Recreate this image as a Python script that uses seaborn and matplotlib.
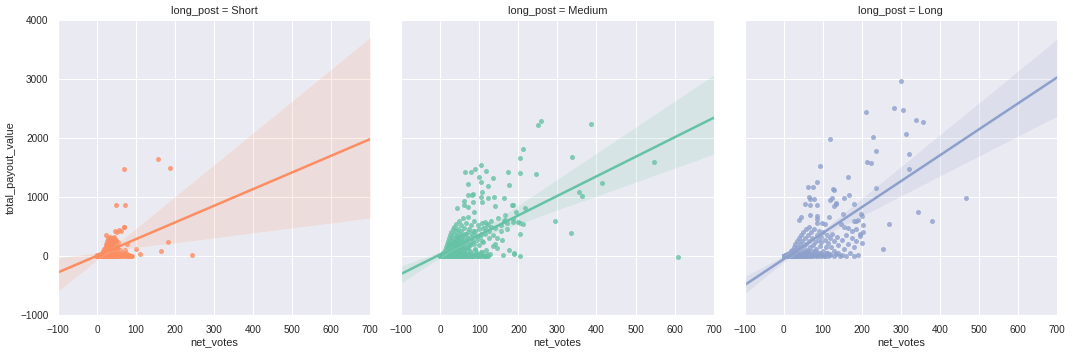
import pandas as pd
import matplotlib
matplotlib.use("Agg")
import matplotlib.pyplot as plt
import seaborn as sns

# -----------------------------------------------------------
# 1. DATA (as (net_votes, payout) pairs)
# -----------------------------------------------------------
categories = ["Short", "Medium", "Long"]
colors = ["#fc8d62", "#66c2a5", "#8da0cb"]

short_points = [
    # outliers
    (70, 1469), (155, 1639), (188, 1486), (49, 859), (73, 859), (70, 486), (62, 418), (47, 430), (51, 400),
    (22, 350), (183, 232), (165, 80), (244, 12), (101, 113), (111, 29), (78, 198), (73, 100), (84, 5),
    (79, 10), (56, 441), (69, 497),
    # main cluster
    (5, 0), (8, 2), (10, 5), (12, 0), (14, 8), (15, 20), (16, 0), (18, 40), (18, 12), (20, 60), (20, 0),
    (21, 90), (22, 150), (22, 30), (23, 200), (24, 0), (24, 110), (25, 260), (25, 45), (26, 180), (26, 0),
    (27, 300), (27, 75), (28, 130), (28, 5), (29, 220), (30, 0), (30, 90), (30, 280), (31, 160), (32, 40),
    (32, 240), (33, 0), (33, 120), (34, 320), (34, 190), (35, 60), (35, 15), (36, 260), (36, 0), (37, 140),
    (38, 210), (38, 30), (39, 300), (40, 0), (40, 95), (41, 170), (42, 250), (42, 10), (43, 330), (44, 60),
    (45, 0), (45, 130), (46, 200), (47, 20), (48, 280), (50, 0), (50, 90), (52, 150), (53, 10), (55, 0),
    (55, 230), (57, 40), (58, 0), (60, 110), (62, 0), (63, 20), (65, 60), (66, 0), (68, 10), (70, 30),
    (72, 0), (75, 50), (77, 5), (80, 0), (82, 15), (86, 0), (90, 5), (0, 0), (1, 3), (2, 0), (3, 5),
    (-1, 0), (4, 10),
    (10, 40), (12, 60), (14, 30), (15, 90), (16, 55), (17, 120), (18, 70), (19, 20), (20, 130), (21, 45),
    (22, 100), (23, 160), (24, 65), (25, 190), (26, 35), (27, 110), (28, 230), (29, 80), (30, 150), (31, 50),
    (32, 190), (33, 260), (34, 100), (35, 20), (36, 170), (37, 230), (38, 75), (39, 140), (40, 260), (41, 45),
    (42, 110), (43, 200), (44, 25), (45, 280), (46, 90), (47, 160), (48, 10), (49, 230), (50, 130),
    # dense floor near zero
    (0, 2), (1, 0), (2, 4), (3, 0), (4, 1), (5, 6), (6, 0), (7, 10), (8, 0), (9, 3), (10, 20), (11, 0),
    (12, 8), (13, 30), (14, 0), (15, 5), (16, 40), (17, 0), (18, 2), (19, 50), (20, 12), (21, 0), (22, 60),
    (23, 5), (24, 25), (25, 0), (26, 70), (27, 10), (28, 0), (29, 35), (30, 15), (31, 0), (32, 80), (33, 5),
    (34, 0), (35, 45), (36, 20), (37, 0), (38, 55), (39, 8), (40, 30), (41, 0), (43, 12), (44, 0), (46, 40),
    (48, 5), (50, 20),
    (0, 0), (0, 5), (1, 0), (1, 10), (2, 0), (2, 2), (3, 0), (3, 15), (4, 0), (4, 3), (5, 0), (5, 25),
    (6, 0), (6, 8), (7, 0), (7, 4), (8, 0), (8, 30), (9, 0), (9, 12),
]

medium_points = [
    # outliers
    (249, 2215), (257, 2283), (387, 2232), (211, 1808), (203, 1656), (338, 1673), (547, 1588), (244, 1385),
    (203, 1401), (173, 1424), (415, 1232), (356, 1079), (362, 1012), (218, 808), (295, 588), (334, 385),
    (608, -22), (190, 29), (203, 0), (203, 367), (211, 537), (199, 571), (184, 859), (186, 859), (162, 978),
    (175, 1198), (134, 1317), (121, 1181), (116, 1441), (103, 1537), (88, 1480), (78, 1424), (63, 1424),
    (98, 1345), (103, 1260), (70, 1215), (107, 1079), (104, 1000), (121, 978), (137, 995), (72, 1034),
    (80, 1034), (85, 1050), (62, 932), (85, 915), (60, 859), (72, 824), (86, 746), (44, 808), (139, 847),
    (107, 910), (162, 593), (171, 565), (121, 542), (130, 497), (165, 610), (186, 581), (107, 554),
    (115, 581), (145, 300), (158, 271), (145, 130), (136, 175), (160, 10), (190, 50), (96, 20), (105, 10),
    (122, 0),
    # main cluster
    (1, 0), (2, 5), (3, 0), (4, 20), (5, 0), (6, 40), (7, 10), (8, 0), (9, 70), (10, 30), (10, 0),
    (11, 110), (12, 50), (13, 0), (14, 150), (15, 80), (15, 10), (16, 200), (17, 120), (18, 0), (18, 40),
    (19, 250), (20, 170), (20, 60), (21, 0), (22, 300), (22, 100), (23, 220), (24, 20), (25, 350),
    (25, 140), (26, 0), (27, 280), (27, 70), (28, 400), (28, 190), (29, 10), (30, 330), (30, 110), (31, 0),
    (32, 450), (32, 240), (33, 50), (34, 380), (35, 160), (35, 0), (36, 500), (37, 290), (38, 80), (38, 20),
    (39, 420), (40, 200), (40, 0), (41, 550), (42, 340), (43, 120), (44, 30), (45, 460), (45, 250), (46, 0),
    (47, 600), (48, 380), (49, 150), (50, 60), (50, 0), (52, 520), (52, 290), (54, 420), (55, 180), (55, 20),
    (57, 650), (58, 340), (60, 90), (60, 0), (62, 480), (63, 240), (65, 560), (65, 30), (67, 380), (68, 130),
    (70, 660), (70, 0), (72, 300), (73, 450), (75, 60), (76, 200), (78, 520), (80, 10), (82, 380), (84, 0),
    (85, 260), (87, 600), (88, 120), (90, 430), (92, 30), (94, 0), (95, 320), (97, 520), (100, 180),
    (100, 0), (103, 70), (105, 380), (108, 20), (110, 240), (112, 0), (115, 470), (118, 100), (120, 0),
    (125, 300), (128, 40), (140, 200), (155, 420), (175, 100),
    (5, 20), (6, 10), (7, 30), (8, 45), (9, 15), (10, 55), (11, 25), (12, 70), (13, 40), (14, 90), (15, 30),
    (16, 110), (17, 55), (18, 130), (19, 75), (20, 100), (21, 40), (22, 140), (23, 80), (24, 170), (25, 55),
    (26, 120), (27, 190), (28, 90), (29, 150), (30, 60), (31, 210), (32, 130), (33, 170), (34, 90), (35, 240),
    (36, 140), (37, 60), (38, 200), (39, 120), (40, 260), (41, 90), (42, 180), (43, 300), (44, 140), (45, 70),
    (46, 220), (47, 320), (48, 160), (50, 110), (52, 250), (54, 190), (56, 350), (58, 130), (60, 270),
    (62, 200), (64, 380), (66, 150), (68, 290), (70, 220), (72, 400), (75, 180), (78, 330), (80, 260),
    (83, 420), (86, 200), (90, 350), (94, 280), (98, 450), (102, 320), (106, 250), (110, 480), (115, 380),
    (120, 520), (125, 420), (130, 600), (135, 350), (140, 480), (148, 650), (155, 520), (165, 700),
    (172, 450), (185, 620), (195, 750), (205, 560),
    # dense floor near zero
    (0, 0), (1, 2), (2, 0), (3, 8), (4, 0), (5, 15), (6, 3), (7, 0), (8, 25), (9, 5), (10, 0), (11, 35),
    (12, 8), (13, 0), (14, 45), (15, 2), (16, 0), (17, 60), (18, 10), (19, 0), (20, 20), (21, 80), (22, 0),
    (23, 30), (24, 5), (25, 0), (26, 95), (27, 15), (28, 0), (29, 40), (30, 0), (32, 60), (33, 10), (34, 0),
    (36, 120), (37, 25), (38, 0), (40, 70), (41, 5), (42, 0), (44, 140), (45, 30), (46, 0), (48, 90),
    (49, 10), (50, 0), (52, 50), (54, 0), (55, 160), (57, 20), (58, 0), (60, 100), (62, 5), (64, 0),
    (66, 60), (68, 0), (70, 130), (72, 15), (74, 0), (76, 80), (78, 0), (80, 40), (82, 5), (85, 0),
    (88, 100), (90, 10), (92, 0), (95, 50), (98, 0), (100, 20), (104, 0), (108, 70), (112, 5), (116, 0),
    (120, 40),
    (0, 0), (0, 3), (1, 0), (1, 6), (2, 0), (2, 10), (3, 0), (3, 2), (4, 0), (4, 12), (5, 0), (5, 4),
    (6, 0), (6, 18), (7, 0), (7, 7), (8, 0), (8, 22), (9, 0), (9, 3), (10, 0), (10, 28), (11, 0), (11, 9),
    (12, 0), (12, 35), (13, 0), (13, 5), (14, 0), (14, 40), (15, 0), (15, 12), (16, 0), (16, 50), (17, 0),
    (17, 8), (18, 0), (18, 60), (19, 0), (19, 15), (20, 0), (20, 70), (21, 0), (21, 20), (22, 0), (22, 80),
    (23, 0), (23, 10), (24, 0), (24, 90), (25, 0), (26, 30), (27, 0), (28, 45), (29, 0), (30, 20), (31, 0),
    (32, 55), (33, 0), (35, 25),
    (0, 1), (1, 4), (2, 1), (3, 5), (4, 2), (5, 8), (6, 1), (7, 12), (8, 3), (9, 16), (10, 2), (11, 20),
    (12, 4), (13, 25), (14, 6), (15, 30), (16, 3), (17, 35), (18, 5), (19, 40), (20, 8), (21, 45), (22, 4),
    (23, 50), (24, 10), (25, 55), (26, 6), (27, 60), (28, 12), (29, 20), (30, 5), (31, 30), (32, 8),
    (33, 40), (34, 12), (35, 6), (36, 45), (37, 10), (38, 30), (39, 5), (40, 15), (2, 2), (4, 6), (6, 4),
    (8, 10), (10, 6), (12, 14), (14, 9), (16, 18), (18, 12),
]

long_points = [
    # outliers
    (301, 2961), (211, 2436), (283, 2503), (306, 2469), (339, 2300), (357, 2266), (119, 1978), (229, 2012),
    (314, 2063), (237, 1775), (321, 1724), (214, 1588), (224, 1571), (321, 1469), (93, 1520), (165, 1334),
    (237, 1147), (467, 978), (344, 741), (380, 588), (270, 537), (255, 114), (180, 0), (85, 1249), (62, 1164),
    (75, 1164), (126, 1131), (128, 1120), (167, 1029), (155, 978), (123, 978), (118, 944), (133, 893),
    (128, 842), (135, 876), (180, 876), (64, 995), (68, 961), (78, 961), (56, 876), (68, 859), (86, 859),
    (152, 707), (68, 690), (45, 656), (40, 605), (85, 673), (86, 622), (116, 656), (198, 707), (200, 673),
    (191, 605), (186, 588), (180, 588), (148, 540), (155, 500), (165, 470), (185, 460), (204, 520),
    (175, 420), (195, 380), (204, 400), (86, 560), (99, 560), (107, 543),
    # main cluster
    (0, 0), (1, 5), (2, 0), (3, 10), (4, 0), (5, 20), (6, 5), (8, 0), (10, 30), (12, 10), (14, 0), (15, 50),
    (17, 20), (18, 80), (20, 0), (20, 40), (22, 110), (24, 15), (25, 60), (26, 150), (28, 0), (28, 90),
    (30, 200), (30, 30), (32, 120), (33, 0), (35, 250), (35, 60), (37, 160), (38, 10), (40, 300), (40, 90),
    (42, 200), (43, 0), (45, 350), (45, 130), (47, 40), (48, 250), (50, 400), (50, 0), (52, 170), (53, 80),
    (55, 300), (55, 20), (57, 450), (58, 210), (60, 110), (60, 0), (62, 350), (63, 50), (65, 260), (66, 500),
    (68, 150), (70, 0), (70, 400), (72, 80), (74, 300), (75, 190), (77, 30), (78, 450), (80, 240), (82, 0),
    (83, 120), (85, 350), (87, 60), (88, 280), (90, 420), (92, 170), (94, 20), (95, 320), (97, 230),
    (100, 80), (100, 400), (103, 0), (105, 270), (108, 150), (110, 350), (112, 50), (115, 220), (118, 300),
    (120, 10), (122, 160), (125, 380), (128, 90), (130, 250), (135, 30), (138, 320), (140, 180), (145, 0),
    (150, 280), (155, 120), (160, 350), (165, 200), (170, 60), (175, 300), (180, 150), (185, 260), (190, 20),
    (195, 340), (200, 220),
    # dense floor near zero
    (0, 0), (1, 0), (2, 3), (3, 0), (5, 0), (6, 10), (7, 0), (9, 0), (10, 15), (11, 0), (13, 5), (15, 0),
    (16, 25), (18, 0), (19, 8), (21, 0), (23, 30), (25, 0), (27, 12), (29, 0), (31, 40), (33, 5), (36, 0),
    (38, 50), (41, 0), (44, 20), (47, 0), (50, 60), (53, 0), (56, 30), (59, 0), (62, 80), (65, 10), (68, 0),
    (72, 40), (76, 0), (80, 90), (84, 15), (88, 0), (92, 50), (96, 0), (100, 20), (105, 0), (110, 60),
    (115, 0), (120, 30), (130, 0), (140, 50), (150, 10), (160, 0),
    (4, 5), (8, 0), (12, 10), (14, 0), (17, 15), (22, 0), (26, 20), (30, 0), (34, 25), (37, 0), (42, 10),
    (46, 30), (49, 0), (54, 15), (58, 40), (61, 0), (66, 20),
    (0, 0), (1, 2), (2, 0), (3, 6), (4, 0), (5, 10), (6, 0), (7, 4), (8, 0), (9, 15), (10, 0), (11, 6),
    (12, 0), (13, 20), (14, 0), (15, 8), (16, 0), (18, 25), (20, 0), (22, 10),
    (0, 2), (1, 6), (2, 1), (3, 9), (4, 3), (5, 12), (6, 2), (7, 15), (8, 5), (9, 18), (10, 4), (11, 22),
    (12, 6), (13, 25), (14, 3), (15, 28), (16, 8), (17, 30), (19, 12), (21, 35),
]

# Build one long table for seaborn
frames = []
for name, pts in zip(categories, [short_points, medium_points, long_points]):
    part = pd.DataFrame(pts, columns=["net_votes", "total_payout_value"])
    part["long_post"] = name
    frames.append(part)
df = pd.concat(frames, ignore_index=True)

# -----------------------------------------------------------
# 2. STYLE
# -----------------------------------------------------------
sns.set_theme(style="darkgrid", context="notebook")
plt.rcParams["font.family"] = ["Liberation Sans", "DejaVu Sans"]
plt.rcParams["xtick.labelsize"] = 10
plt.rcParams["ytick.labelsize"] = 10
plt.rcParams["axes.labelsize"] = 11
plt.rcParams["axes.titlesize"] = 11

# -----------------------------------------------------------
# 3. PLOT: one regression panel per post length
# -----------------------------------------------------------
g = sns.lmplot(data=df, x="net_votes", y="total_payout_value",
               col="long_post", hue="long_post",
               col_order=categories, hue_order=categories, palette=colors,
               height=354 / 72, aspect=1.0, truncate=False, legend=False, seed=0,
               facet_kws={"xlim": (-100, 700), "ylim": (-1000, 4000)},
               scatter_kws={"s": 25, "alpha": 0.8, "linewidths": 0},
               line_kws={"lw": 2.5})

g.set(xticks=range(-100, 701, 100), yticks=range(-1000, 4001, 1000))
g.set_titles("{col_var} = {col_name}")

g.figure.set_size_inches(1073 / 72, 354 / 72)
g.figure.subplots_adjust(left=0.054, right=0.985, bottom=0.11, top=0.9435, wspace=0.099)
g.figure.savefig("out.png", dpi=72)
